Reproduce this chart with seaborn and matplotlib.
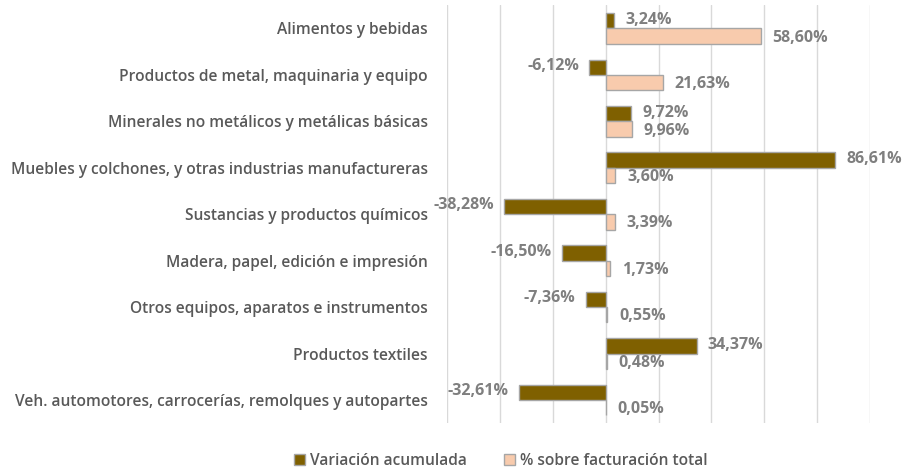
import pandas as pd
import matplotlib
matplotlib.use("Agg")
import matplotlib.pyplot as plt
import seaborn as sns

# Data
categorias = [
    "Alimentos y bebidas",
    "Productos de metal, maquinaria y equipo",
    "Minerales no metálicos y metálicas básicas",
    "Muebles y colchones, y otras industrias manufactureras",
    "Sustancias y productos químicos",
    "Madera, papel, edición e impresión",
    "Otros equipos, aparatos e instrumentos",
    "Productos textiles",
    "Veh. automotores, carrocerías, remolques y autopartes",
]
variacion = [3.24, -6.12, 9.72, 86.61, -38.28, -16.50, -7.36, 34.37, -32.61]
participacion = [58.60, 21.63, 9.96, 3.60, 3.39, 1.73, 0.55, 0.48, 0.05]
series = ["Variación acumulada", "% sobre facturación total"]
colores = ["#7F6000", "#F8CBAD"]

df = pd.DataFrame({
    "Categoria": categorias * 2,
    "Valor": variacion + participacion,
    "Serie": [series[0]] * len(categorias) + [series[1]] * len(categorias),
})

sns.set_style("white")
plt.rcParams["font.family"] = ["Open Sans", "DejaVu Sans"]

fig = plt.figure(figsize=(9.02, 4.76), dpi=100)
ax = fig.add_axes([0.4956, 0.111, 0.469, 0.878])

sns.barplot(data=df, y="Categoria", x="Valor", hue="Serie", palette=colores,
            orient="h", width=0.66, edgecolor="#A6A6A6", linewidth=1.0,
            saturation=1, dodge=True, ax=ax, legend=True)

ax.set_xlim(-60, 100)
ax.set_xticks(range(-60, 101, 20))
ax.set_xticklabels([])
ax.xaxis.grid(True, color="#D9D9D9", linewidth=1)
ax.set_axisbelow(True)
for s in ax.spines.values():
    s.set_visible(False)
ax.tick_params(axis="both", length=0)
ax.set_xlabel("")
ax.set_ylabel("")
ax.set_yticks(range(len(categorias)))
ax.set_yticklabels(categorias, fontsize=11.2, color="#595959", fontweight="semibold")
ax.tick_params(axis="y", pad=14)

def fmt(v):
    return f"{v:.2f}".replace(".", ",") + "%"

# value labels
for i, v in enumerate(variacion):
    y = i - 0.19
    if v >= 0:
        ax.text(v + 4.3, y, fmt(v), ha="left", va="center", fontsize=11.5,
                color="#7F7F7F", fontweight="bold", clip_on=False)
    else:
        ax.text(v - 4, y, fmt(v), ha="right", va="center", fontsize=11.5,
                color="#7F7F7F", fontweight="bold", clip_on=False)
for i, v in enumerate(participacion):
    y = i + 0.2
    ax.text(v + 4.5, y, fmt(v), ha="left", va="center", fontsize=11.5,
            color="#7F7F7F", fontweight="bold", clip_on=False)

handles, labels = ax.get_legend_handles_labels()
ax.legend(handles, labels, loc="upper center", bbox_to_anchor=(0.127, -0.045),
          ncol=2, frameon=False, handlelength=0.7, handleheight=0.7,
          columnspacing=2.4, handletextpad=0.3, labelcolor="#595959",
          borderpad=0.2, prop={"weight": "semibold", "size": 11.2})

fig.savefig("out.png", dpi=100)
